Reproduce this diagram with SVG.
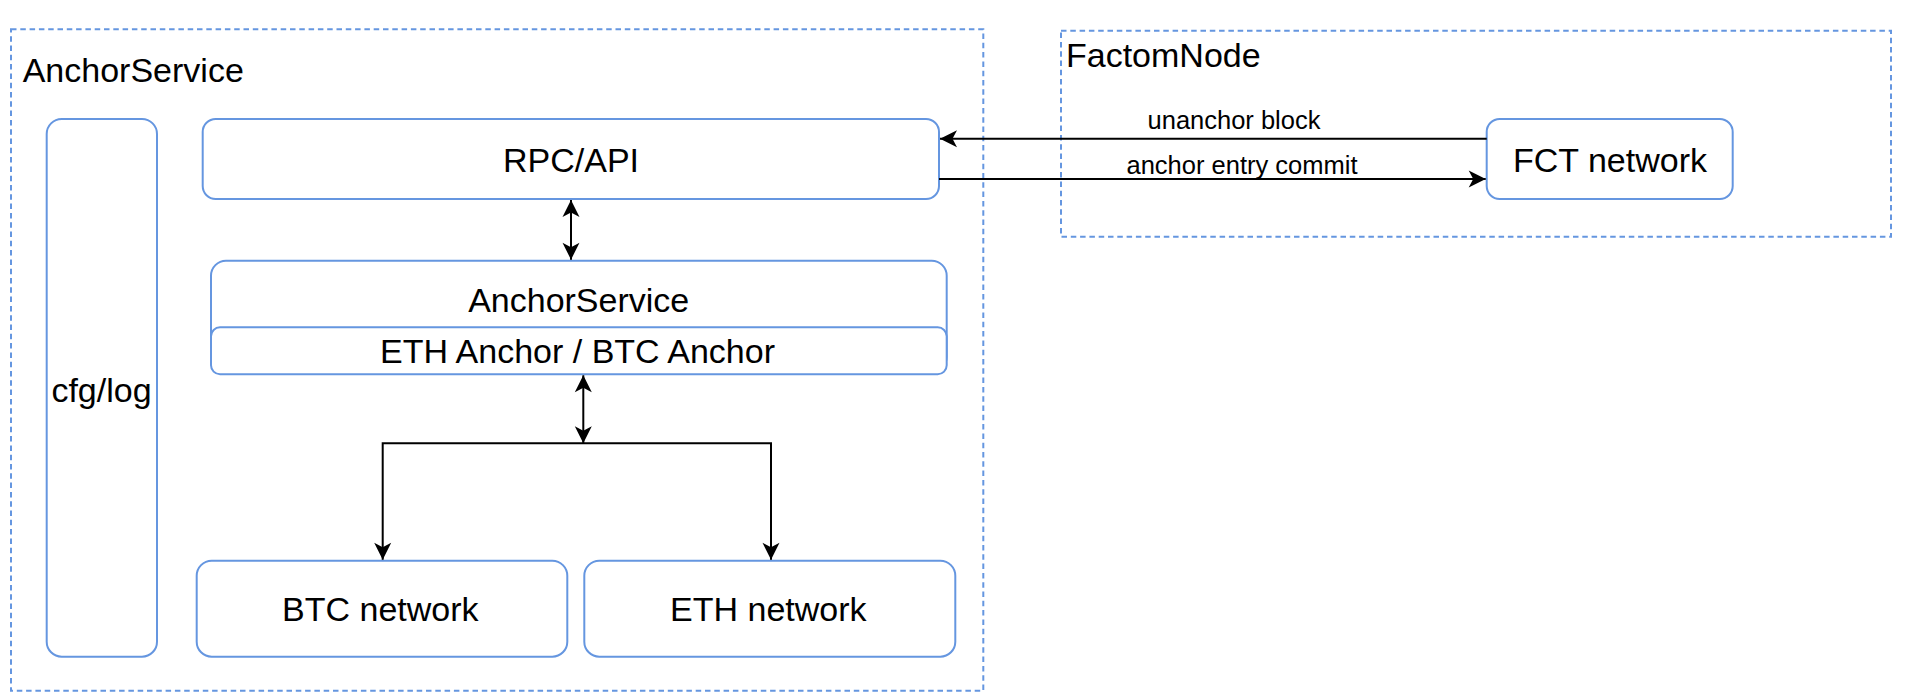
<svg xmlns="http://www.w3.org/2000/svg" width="1908" height="700" viewBox="0 0 1908 700">
<style>
.box{fill:#ffffff;stroke:#6596E0;stroke-width:2}
.dash{fill:none;stroke:#6596E0;stroke-width:2;stroke-dasharray:5.5 3.8}
.t{font-family:"Liberation Sans",Arial,Helvetica,sans-serif;font-size:34px;fill:#000000}
.m{text-anchor:middle}
.lbl{font-family:"Liberation Sans",Arial,Helvetica,sans-serif;font-size:25.5px;fill:#000000;text-anchor:middle}
.edge{fill:none;stroke:#000000;stroke-width:2}
</style>
<defs>
<marker id="arr" markerUnits="userSpaceOnUse" markerWidth="20" markerHeight="20" viewBox="-18 -10 20 20" refX="0" refY="0" orient="auto-start-reverse" overflow="visible">
<path d="M-17,-8.5 L0,0 L-17,8.5 L-12.5,0 Z" fill="#000000" stroke="none"/>
</marker>
</defs>
<g id="anchorservice-container">
<rect class="dash" x="11" y="29.3" width="972.3" height="661.4"/>
<text class="t" x="22.7" y="81.7">AnchorService</text>
</g>
<g id="factomnode-container">
<rect class="dash" x="1061" y="30.7" width="830" height="206"/>
<text class="t" x="1066" y="66.7">FactomNode</text>
</g>
<g id="cfglog">
<rect class="box" x="46.7" y="119" width="110.3" height="537.7" rx="15" ry="15"/>
<text class="t m" x="101.5" y="401.7">cfg/log</text>
</g>
<g id="rpcapi">
<rect class="box" x="202.7" y="119" width="736.3" height="80" rx="13" ry="13"/>
<text class="t m" x="571" y="171.7">RPC/API</text>
</g>
<g id="anchorservice">
<rect class="box" x="211" y="260.7" width="735.7" height="111" rx="15" ry="15"/>
<text class="t m" x="578.7" y="311.7">AnchorService</text>
</g>
<g id="anchors">
<rect class="box" x="211" y="327.3" width="735.7" height="47" rx="9" ry="9"/>
<text class="t m" x="577.5" y="363.3">ETH Anchor / BTC Anchor</text>
</g>
<g id="btcnetwork">
<rect class="box" x="196.7" y="560.7" width="370.6" height="96" rx="15" ry="15"/>
<text class="t m" x="380.3" y="621">BTC network</text>
</g>
<g id="ethnetwork">
<rect class="box" x="584.3" y="560.7" width="371" height="96" rx="15" ry="15"/>
<text class="t m" x="768.3" y="621">ETH network</text>
</g>
<g id="fctnetwork">
<rect class="box" x="1486.7" y="119" width="246" height="80" rx="13" ry="13"/>
<text class="t m" x="1610" y="172.3">FCT network</text>
</g>
<g id="connectors">
<path class="edge" d="M1486.7,138.7 L940,138.7" marker-end="url(#arr)"/>
<text class="lbl" x="1234" y="129">unanchor block</text>
<path class="edge" d="M939,179 L1485.7,179" marker-end="url(#arr)"/>
<text class="lbl" x="1242" y="173.5">anchor entry commit</text>
<path class="edge" d="M571,200 L571,259.7" marker-start="url(#arr)" marker-end="url(#arr)"/>
<path class="edge" d="M583.3,375.3 L583.3,443.3" marker-start="url(#arr)" marker-end="url(#arr)"/>
<path class="edge" d="M382.7,559.7 L382.7,443.3 L771,443.3 L771,559.7" marker-start="url(#arr)" marker-end="url(#arr)"/>
</g>
</svg>
